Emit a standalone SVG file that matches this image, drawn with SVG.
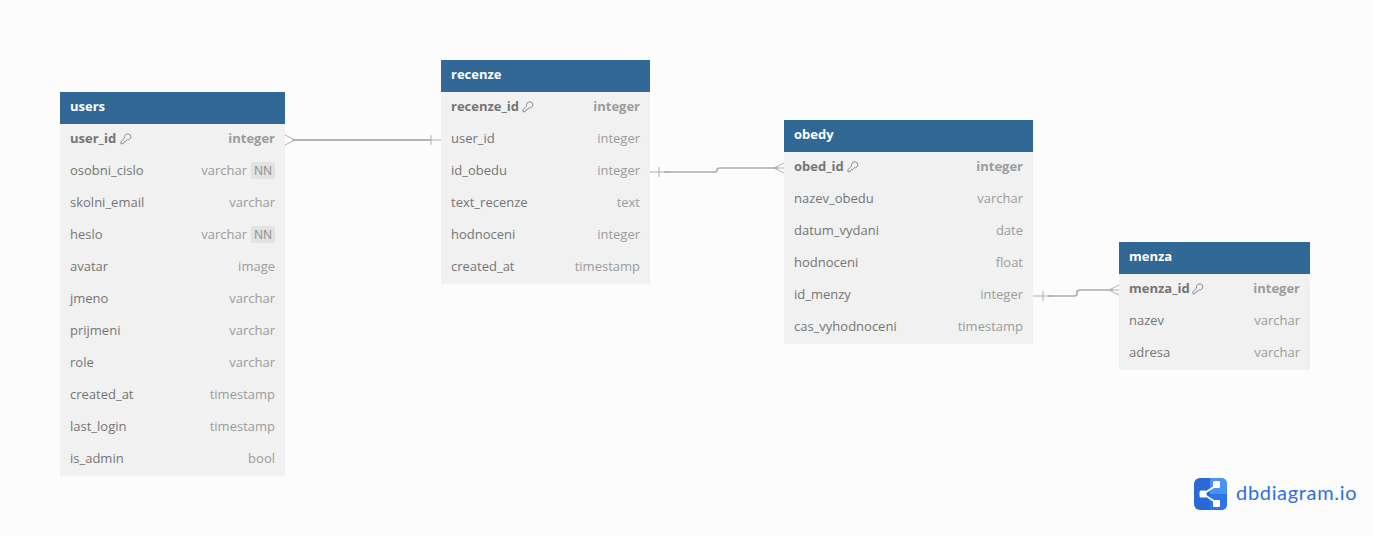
<svg xmlns="http://www.w3.org/2000/svg" width="1374" height="536" viewBox="0 0 1374 536">
<style>
text{font-family:"Open Sans","Noto Sans","Liberation Sans",sans-serif;font-size:13px}
.body{fill:#f1f1f1}.head{fill:#316896}
.title{fill:#fff;font-weight:700;font-size:13px}
.n{fill:#757575}.t{fill:#9c9c9c;text-anchor:end}
.b{font-weight:700}
.nn{fill:#e2e2e2}.nnt{fill:#8c8c8c;font-size:12px;text-anchor:middle}
.key{fill:none;stroke:#808080;stroke-width:.9}
.c{fill:none;stroke:#a9a9b2;stroke-width:1.6}
.m{fill:none;stroke:#b0b0b8;stroke-width:1}
</style>
<defs>
<g id="key"><path d="M5 2.2Q6.4 .6 8.4 .9Q10.8 1.5 10.9 3.8Q10.8 5.8 8.6 6.8L7.2 6.7L5 9L4.6 8.4L3.4 10.4L1.2 11L.8 8.8L4.6 5.2Q4.2 3.4 5 2.2Z" class="key"/></g>
</defs>
<rect width="1374" height="536" fill="#fcfcfc"/>
<g id="connectors">
<path class="m" d="M285 135L295 140L285 145M295 140H441M431 135V145"/><path class="c" d="M292 140H431"/>
<path class="m" d="M650 172H670M659 167V177M784 163L774 168L784 173M774 168H784"/><path class="c" d="M664 172H715Q717 172 717 170V170Q717 168 720 168H778"/>
<path class="m" d="M1033 296H1053M1043 291V301M1119 285L1109 290L1119 295M1109 290H1119"/><path class="c" d="M1048 296H1075Q1077 296 1077 293V292Q1077 290 1080 290H1113"/>
</g>
<g id="users">
<rect class="body" x="60" y="124" width="225" height="352"/><rect class="head" x="60" y="92" width="225" height="32"/>
<text class="title" x="70" y="111">users</text>
<text class="n b" x="70" y="143">user_id</text><use href="#key" x="120" y="133"/><text class="t b" x="275" y="143">integer</text>
<text class="n" x="70" y="175">osobni_cislo</text><text class="t" x="247" y="175">varchar</text><rect class="nn" x="251" y="162" width="24" height="17" rx="2"/><text class="nnt" x="263" y="175">NN</text>
<text class="n" x="70" y="207">skolni_email</text><text class="t" x="275" y="207">varchar</text>
<text class="n" x="70" y="239">heslo</text><text class="t" x="247" y="239">varchar</text><rect class="nn" x="251" y="226" width="24" height="17" rx="2"/><text class="nnt" x="263" y="239">NN</text>
<text class="n" x="70" y="271">avatar</text><text class="t" x="275" y="271">image</text>
<text class="n" x="70" y="303">jmeno</text><text class="t" x="275" y="303">varchar</text>
<text class="n" x="70" y="335">prijmeni</text><text class="t" x="275" y="335">varchar</text>
<text class="n" x="70" y="367">role</text><text class="t" x="275" y="367">varchar</text>
<text class="n" x="70" y="399">created_at</text><text class="t" x="275" y="399">timestamp</text>
<text class="n" x="70" y="431">last_login</text><text class="t" x="275" y="431">timestamp</text>
<text class="n" x="70" y="463">is_admin</text><text class="t" x="275" y="463">bool</text>
</g>
<g id="recenze">
<rect class="body" x="441" y="92" width="209" height="192"/><rect class="head" x="441" y="60" width="209" height="32"/>
<text class="title" x="451" y="79">recenze</text>
<text class="n b" x="451" y="111">recenze_id</text><use href="#key" x="522" y="101"/><text class="t b" x="640" y="111">integer</text>
<text class="n" x="451" y="143">user_id</text><text class="t" x="640" y="143">integer</text>
<text class="n" x="451" y="175">id_obedu</text><text class="t" x="640" y="175">integer</text>
<text class="n" x="451" y="207">text_recenze</text><text class="t" x="640" y="207">text</text>
<text class="n" x="451" y="239">hodnoceni</text><text class="t" x="640" y="239">integer</text>
<text class="n" x="451" y="271">created_at</text><text class="t" x="640" y="271">timestamp</text>
</g>
<g id="obedy">
<rect class="body" x="784" y="152" width="249" height="192"/><rect class="head" x="784" y="120" width="249" height="32"/>
<text class="title" x="794" y="139">obedy</text>
<text class="n b" x="794" y="171">obed_id</text><use href="#key" x="847" y="161"/><text class="t b" x="1023" y="171">integer</text>
<text class="n" x="794" y="203">nazev_obedu</text><text class="t" x="1023" y="203">varchar</text>
<text class="n" x="794" y="235">datum_vydani</text><text class="t" x="1023" y="235">date</text>
<text class="n" x="794" y="267">hodnoceni</text><text class="t" x="1023" y="267">float</text>
<text class="n" x="794" y="299">id_menzy</text><text class="t" x="1023" y="299">integer</text>
<text class="n" x="794" y="331">cas_vyhodnoceni</text><text class="t" x="1023" y="331">timestamp</text>
</g>
<g id="menza">
<rect class="body" x="1119" y="274" width="191" height="96"/><rect class="head" x="1119" y="242" width="191" height="32"/>
<text class="title" x="1129" y="261">menza</text>
<text class="n b" x="1129" y="293">menza_id</text><use href="#key" x="1192" y="283"/><text class="t b" x="1300" y="293">integer</text>
<text class="n" x="1129" y="325">nazev</text><text class="t" x="1300" y="325">varchar</text>
<text class="n" x="1129" y="357">adresa</text><text class="t" x="1300" y="357">varchar</text>
</g>
<g id="logo">
<rect x="1194" y="478" width="33" height="32" rx="6" fill="#2a68d8"/>
<path d="M1210 478H1221Q1227 478 1227 484V494H1210Z" fill="#4a90f5"/>
<path d="M1210 494H1227V504Q1227 510 1221 510H1210Z" fill="#2f74e8"/>
<path d="M1203 494L1217 485M1203 494L1217 503" stroke="#fff" stroke-width="2" fill="none"/>
<rect x="1199.500" y="490.500" width="7" height="7" rx="1.500" fill="#fff"/><rect x="1213" y="481" width="7" height="7" rx="1" fill="#fff"/><rect x="1213" y="500" width="7" height="7" rx="1" fill="#fff"/>
<text x="1236" y="500" style="font-size:20px;font-family:Lato,'Noto Sans',sans-serif;letter-spacing:.68px" fill="#2f6fdc">dbdiagram.io</text>
</g>
</svg>
